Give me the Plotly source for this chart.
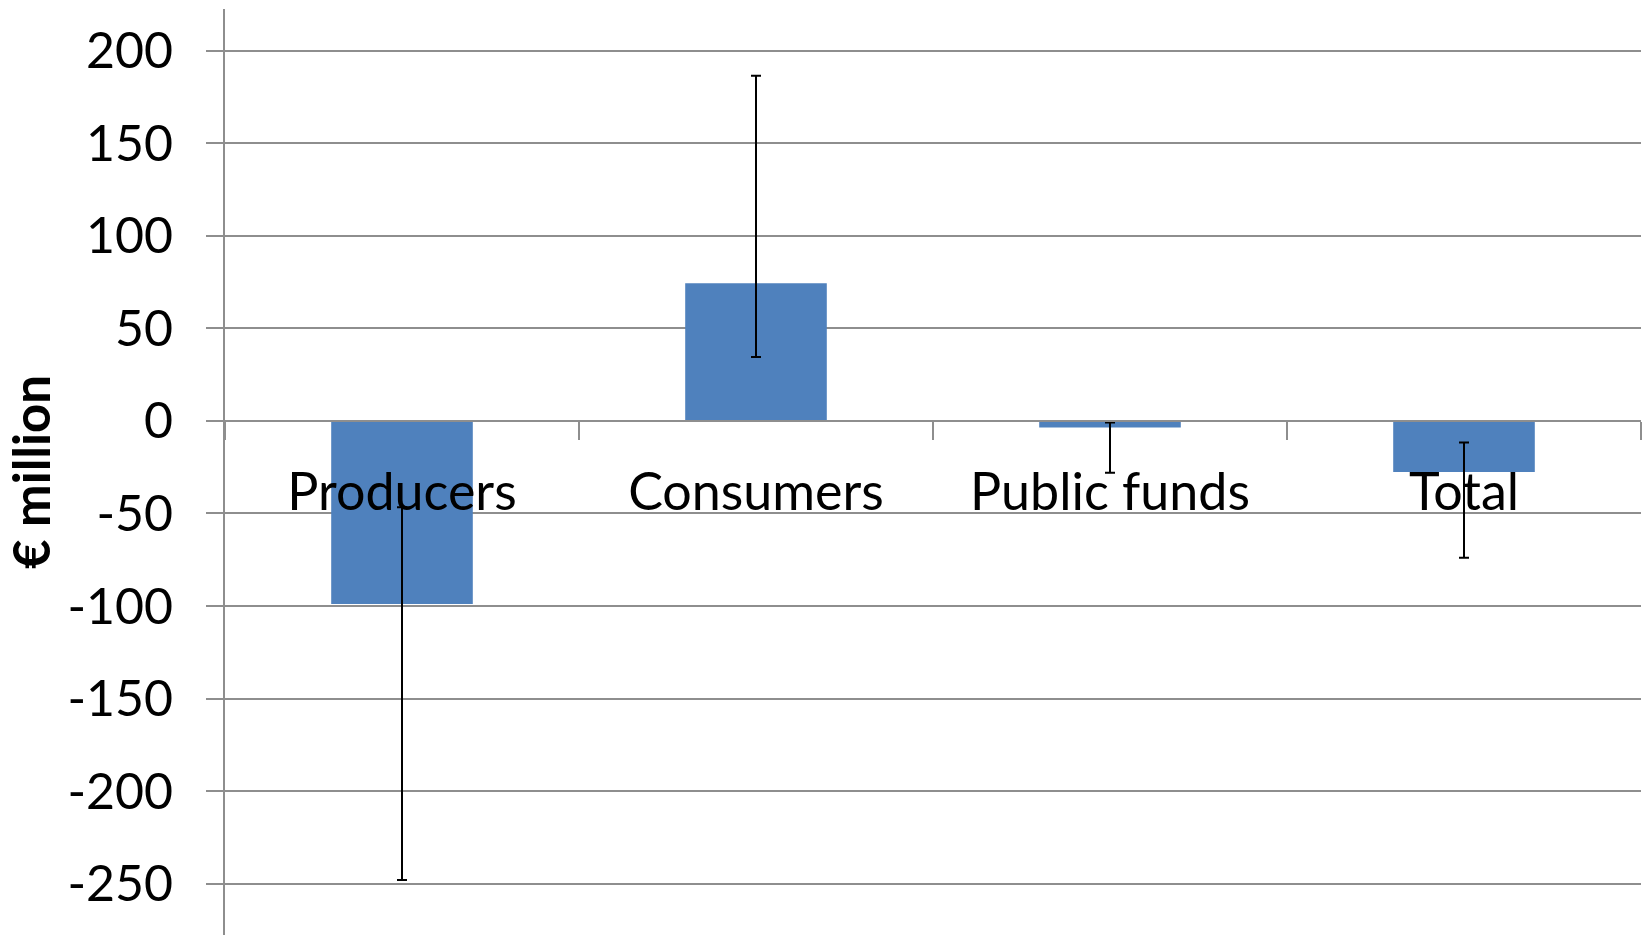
import plotly.graph_objects as go

categories = ["Producers", "Consumers", "Public funds", "Total"]
values = [-98.9, 74.3, -3.5, -27.6]
err_plus = [52.2, 112.2, 2.7, 16.0]
err_minus = [149.1, 39.8, 24.5, 46.3]
y_tickvals = [200, 150, 100, 50, 0, -50, -100, -150, -200, -250]
y_ticktext = ["200", "150", "100", "50", "0", "-50", "-100", "-150", "-200", "-250"]
y_title = "€ million"

y_min, y_max = -277.7, 222.5
gray = "#8e8e8e"
font_family = "Lato"

fig = go.Figure()
fig.add_trace(go.Bar(
    x=categories,
    y=values,
    marker=dict(color="#4F81BD", line=dict(width=0)),
    error_y=dict(type="data", symmetric=False, array=err_plus, arrayminus=err_minus,
                 color="black", thickness=2, width=5),
))

zero_pos = (0 - y_min) / (y_max - y_min)

fig.update_layout(
    width=1646, height=935,
    margin=dict(l=225, r=5, t=9, b=0, autoexpand=False),
    plot_bgcolor="white", paper_bgcolor="white",
    bargap=0.6,
    showlegend=False,
    font=dict(family=font_family, size=52, color="black"),
    xaxis=dict(
        type="category", range=[-0.5, 3.5],
        anchor="free", position=zero_pos,
        showline=True, linecolor=gray, linewidth=2,
        ticks="outside", tickson="boundaries", ticklen=18, tickcolor=gray, tickwidth=2,
        showgrid=False, ticklabelstandoff=26,
        tickfont=dict(family=font_family, size=52, color="black"),
        automargin=False,
    ),
    yaxis=dict(
        range=[y_min, y_max],
        tickvals=y_tickvals, ticktext=y_ticktext,
        showline=True, linecolor=gray, linewidth=2,
        ticks="outside", ticklen=17, tickcolor=gray, tickwidth=2,
        showgrid=True, gridcolor=gray, gridwidth=2,
        zeroline=False,
        ticklabelstandoff=23,
        tickfont=dict(family=font_family, size=50, color="black"),
        title=dict(text="<b>" + y_title + "</b>", font=dict(family=font_family, size=51, color="black"), standoff=30),
        automargin=False,
    ),
)

fig.write_html("out.html", config={"displayModeBar": False},
               post_script="document.body.style.margin='0px';document.body.style.overflow='hidden';")
